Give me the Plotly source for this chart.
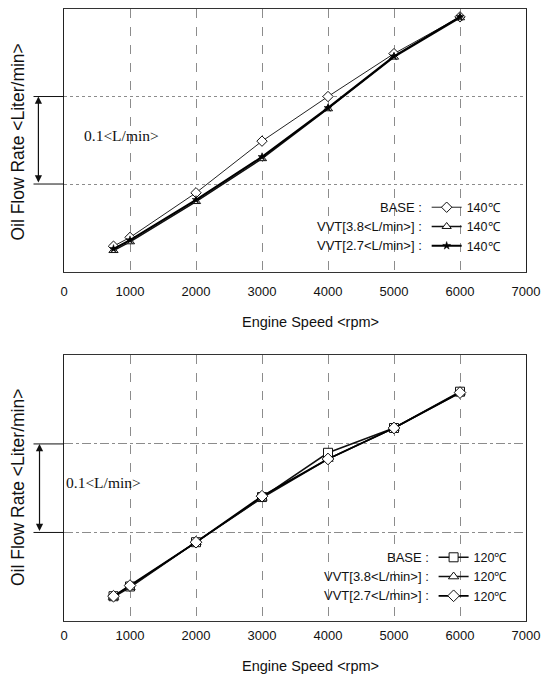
import plotly.graph_objects as go

# Engine speed sample points and axis ticks
rpm = [750, 1000, 2000, 3000, 4000, 5000, 6000]
x_ticks = [0, 1000, 2000, 3000, 4000, 5000, 6000, 7000]

# Oil flow rate [L/min] at 140 deg C
base_140 = [0.229, 0.239, 0.290, 0.349, 0.400, 0.449, 0.491]
vvt38_140 = [0.224, 0.234, 0.280, 0.329, 0.386, 0.445, 0.490]
vvt27_140 = [0.226, 0.236, 0.282, 0.331, 0.387, 0.446, 0.491]

# Oil flow rate [L/min] at 120 deg C
base_120 = [0.228, 0.239, 0.289, 0.340, 0.390, 0.418, 0.459]
vvt38_120 = [0.227, 0.238, 0.289, 0.339, 0.383, 0.418, 0.458]
vvt27_120 = [0.228, 0.240, 0.289, 0.341, 0.383, 0.418, 0.458]

series_names = ["BASE :", "VVT[3.8&lt;L/min&gt;] :", "VVT[2.7&lt;L/min&gt;] :"]
temp_labels = ["140℃", "120℃"]

SANS = "Liberation Sans, Arial, sans-serif"
SERIF = "Liberation Serif, Times New Roman, serif"

fig = go.Figure()

# ---- upper panel (140 C)
fig.add_trace(go.Scatter(
    x=rpm, y=base_140, name=temp_labels[0], legend="legend", mode="lines+markers",
    line=dict(color="#222", width=1),
    marker=dict(symbol="diamond", size=8, color="white", line=dict(color="#111", width=1)),
    xaxis="x", yaxis="y"))
fig.add_trace(go.Scatter(
    x=rpm, y=vvt38_140, name=temp_labels[0], legend="legend", mode="lines+markers",
    line=dict(color="#111", width=1.5),
    marker=dict(symbol="triangle-up", size=8, color="white", line=dict(color="#111", width=1)),
    xaxis="x", yaxis="y"))
fig.add_trace(go.Scatter(
    x=rpm, y=vvt27_140, name=temp_labels[0], legend="legend", mode="lines+markers",
    line=dict(color="#000", width=2),
    marker=dict(symbol="star", size=6, color="#000", line=dict(color="#000", width=0.5)),
    xaxis="x", yaxis="y"))

# ---- lower panel (120 C)
fig.add_trace(go.Scatter(
    x=rpm, y=base_120, name=temp_labels[1], legend="legend2", mode="lines+markers",
    line=dict(color="#111", width=1.5),
    marker=dict(symbol="square", size=9, color="white", line=dict(color="#111", width=1)),
    xaxis="x2", yaxis="y2"))
fig.add_trace(go.Scatter(
    x=rpm, y=vvt38_120, name=temp_labels[1], legend="legend2", mode="lines+markers",
    line=dict(color="#111", width=1.5),
    marker=dict(symbol="triangle-up", size=9, color="white", line=dict(color="#111", width=1)),
    xaxis="x2", yaxis="y2"))
fig.add_trace(go.Scatter(
    x=rpm, y=vvt27_120, name=temp_labels[1], legend="legend2", mode="lines+markers",
    line=dict(color="#000", width=1.8),
    marker=dict(symbol="diamond", size=9, color="white", line=dict(color="#111", width=1)),
    xaxis="x2", yaxis="y2"))

xaxis_common = dict(
    range=[0, 7000], tickvals=x_ticks, ticktext=[str(v) for v in x_ticks],
    showgrid=True, gridcolor="#8c8c8c", gridwidth=1,
    showline=True, linecolor="#333", linewidth=1, mirror=True,
    ticks="", zeroline=False,
    tickfont=dict(family=SANS, size=13, color="#111"),
)
yaxis_common = dict(
    range=[0.2, 0.5], tickvals=[0.3, 0.4], showticklabels=False,
    showgrid=True, gridcolor="#8c8c8c", gridwidth=1,
    showline=True, linecolor="#222", linewidth=1.2, mirror=True,
    ticks="", zeroline=False,
)

LEG_TOP = (0.70, 0.785)
LEG_BOT = (0.128, 0.80)

fig.update_layout(
    width=548, height=679, autosize=False,
    margin=dict(l=64, r=15, t=8, b=58),
    paper_bgcolor="white", plot_bgcolor="white",
    xaxis=dict(**xaxis_common, anchor="y", griddash="dash", ticklabelstandoff=8),
    yaxis=dict(**yaxis_common, domain=[0.571, 1.0], anchor="x", griddash="dot"),
    xaxis2=dict(**xaxis_common, anchor="y2", griddash="dash", ticklabelstandoff=2),
    yaxis2=dict(**yaxis_common, domain=[0.0, 0.434], anchor="x2", griddash="dashdot"),
    legend=dict(x=LEG_TOP[1], y=LEG_TOP[0], xanchor="left", yanchor="top",
                bgcolor="rgba(0,0,0,0)", itemwidth=30,
                font=dict(family=SANS, size=12.5, color="#111"),
                tracegroupgap=0, itemclick=False),
    legend2=dict(x=LEG_BOT[1], y=LEG_BOT[0], xanchor="left", yanchor="top",
                 bgcolor="rgba(0,0,0,0)", itemwidth=30,
                 font=dict(family=SANS, size=12.5, color="#111"),
                 tracegroupgap=0, itemclick=False),
    showlegend=True,
)

annotations = []
shapes = []

# series labels to the left of each legend
for ytop, xleg in (LEG_TOP, LEG_BOT):
    for i, nm in enumerate(series_names):
        annotations.append(dict(
            xref="paper", yref="paper", x=xleg - 0.005, y=ytop - (15 + 19 * i) / 613,
            text=nm, showarrow=False, xanchor="right", yanchor="middle",
            font=dict(family=SANS, size=13, color="#111")))

# axis titles
for yc in (0.783, 0.2186):
    annotations.append(dict(
        xref="paper", yref="paper", x=-0.100, y=yc, text="Oil Flow Rate &lt;Liter/min&gt;",
        textangle=-90, showarrow=False, xanchor="center", yanchor="middle",
        font=dict(family=SANS, size=17.5, color="#111")))
for yc in (0.489, -0.073):
    annotations.append(dict(
        xref="paper", yref="paper", x=0.533, y=yc, text="Engine Speed &lt;rpm&gt;",
        showarrow=False, xanchor="center", yanchor="middle",
        font=dict(family=SANS, size=14.5, color="#111")))

# 0.1 L/min scale marker between the two horizontal grid lines
scale_marks = [("y", -0.0554, 0.038, 0.355), ("y2", -0.053, 0.0, 0.357)]
for yref_name, xarrow, xtext, ytext in scale_marks:
    for lvl in (0.3, 0.4):
        shapes.append(dict(type="line", xref="paper", yref=yref_name,
                           x0=-0.066, x1=0.0, y0=lvl, y1=lvl,
                           line=dict(color="#111", width=1)))
    annotations.append(dict(
        xref="paper", yref=yref_name, x=xarrow, y=0.4,
        axref="pixel", ayref=yref_name, ax=0, ay=0.3,
        showarrow=True, arrowhead=2, startarrowhead=2, arrowside="end+start",
        arrowsize=1.2, startarrowsize=1.2, arrowwidth=1.2, arrowcolor="#111", text=""))
    annotations.append(dict(
        xref="paper", yref=yref_name, x=xtext, y=ytext, text="0.1&lt;L/min&gt;",
        showarrow=False, xanchor="left", yanchor="middle",
        font=dict(family=SERIF, size=15.5, color="#111")))

fig.update_layout(annotations=annotations, shapes=shapes)

fig.write_html("out.html")
